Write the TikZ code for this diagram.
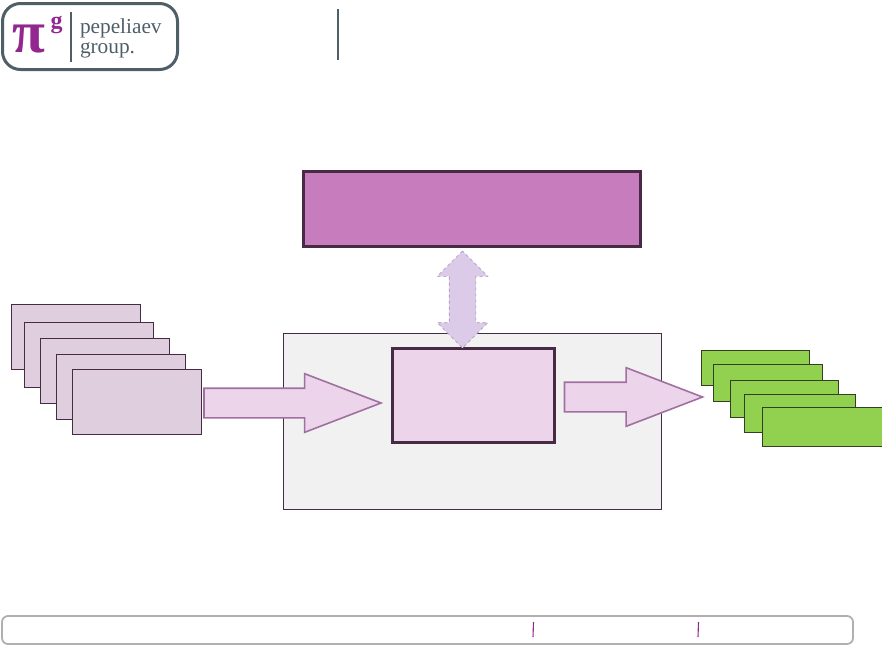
\documentclass[tikz,border=0pt]{standalone}
\usepackage{fontspec}
\setmainfont{Liberation Serif}
\usetikzlibrary{positioning,shapes.arrows}

\definecolor{edgedark}{HTML}{472B45}
\definecolor{logogrey}{HTML}{4F5F68}
\definecolor{logopurple}{HTML}{92278F}

\begin{document}
\begin{tikzpicture}[x=1pt,y=-1pt,outer sep=0pt,inner sep=0pt,
    inbox/.style={draw=edgedark,line width=0.9pt,fill={rgb,255:red,223;green,206;blue,221},
      minimum width=129.5pt,minimum height=65.5pt,anchor=north west},
    outbox/.style={draw={rgb,255:red,52;green,62;blue,35},line width=0.9pt,fill={rgb,255:red,146;green,208;blue,80},anchor=north west},
    bigarrow/.style={shape=single arrow,draw={rgb,255:red,160;green,112;blue,160},line width=1.6pt,
      fill={rgb,255:red,236;green,213;blue,235},inner ysep=14pt,minimum width=57pt,single arrow head extend=14.5pt,
      single arrow head indent=0pt,single arrow tip angle=42,anchor=west},
    logobar/.style={draw=logogrey,line width=2pt}]
  \useasboundingbox (0,0) rectangle (882,646);

  % logo
  \node[draw=logogrey,line width=3pt,rounded corners=18pt,anchor=north west,
    minimum width=175pt,minimum height=66pt] (logo) at (2.5,3.5) {};
  \node[text=logopurple,font=\fontsize{60}{60}\selectfont\bfseries,anchor=base] (pi) at (29,52) {π};
  \node[text=logopurple,font=\fontsize{24}{24}\selectfont\bfseries,anchor=base] (g) at (56.5,28) {g};
  \node[text=logogrey,font=\fontsize{21.3}{21.3}\selectfont,anchor=base west] (pep) at (80,33.5) {pepeliaev};
  \node[text=logogrey,font=\fontsize{21.3}{21.3}\selectfont,anchor=base west] (grp) at (80,53) {group.};
  \coordinate (bar1a) at (70.5,12);
  \coordinate (bar1b) at (70.5,62);
  \coordinate (bar2a) at (338,9);
  \coordinate (bar2b) at (338,60);
  \draw[logobar] (bar1a) -- (bar1b);
  \draw[logobar] (bar2a) -- (bar2b);

  % middle
  \node[draw=edgedark,line width=0.7pt,fill={rgb,255:red,241;green,241;blue,241},anchor=north west,
    minimum width=377.5pt,minimum height=176pt] (frame) at (283.5,333) {};
  \node[draw=edgedark,line width=2.2pt,fill={rgb,255:red,199;green,125;blue,189},anchor=north west,
    minimum width=337pt,minimum height=75pt] (top) at (303.5,171.5) {};
  \node[draw=edgedark,line width=2.2pt,fill={rgb,255:red,236;green,213;blue,235},anchor=north west,
    minimum width=162pt,minimum height=94pt] (core) at (392.5,348.5) {};
  \node[shape=double arrow,draw={rgb,255:red,165;green,140;blue,180},dashed,line width=0.6pt,
    fill={rgb,255:red,219;green,203;blue,232},rotate=90,inner ysep=13pt,minimum height=97pt,minimum width=50pt,
    double arrow head extend=12pt,double arrow head indent=0pt,double arrow tip angle=90] (link) at (462.5,299.5) {};

  % left stack
  \node[inbox] (in1) at (11,304) {};
  \node[inbox] (in2) [below right=18pt and 13pt of in1.north west] {};
  \node[inbox] (in3) [below right=16pt and 16pt of in2.north west] {};
  \node[inbox] (in4) [below right=16pt and 16pt of in3.north west] {};
  \node[inbox] (in5) [below right=15pt and 16pt of in4.north west] {};

  % right stack
  \node[outbox,minimum width=108pt,minimum height=35pt] (out1) at (701,350.5) {};
  \node[outbox,minimum width=109.5pt,minimum height=37pt] (out2) [below right=13.5pt and 12pt of out1.north west] {};
  \node[outbox,minimum width=108pt,minimum height=37pt] (out3) [below right=16pt and 17pt of out2.north west] {};
  \node[outbox,minimum width=111pt,minimum height=38pt] (out4) [below right=14pt and 14pt of out3.north west] {};
  \node[outbox,minimum width=120pt,minimum height=39.5pt] (out5) [below right=13pt and 18pt of out4.north west] {};

  % arrows
  \node[bigarrow,minimum height=177pt] (inarrow) at (204,403) {};
  \node[bigarrow,minimum height=138pt] (outarrow) at (564.5,397) {};

  % footer
  \node[draw={rgb,255:red,176;green,176;blue,176},line width=1.8pt,rounded corners=6pt,anchor=north west,
    minimum width=851pt,minimum height=28pt] (footer) at (2,616) {};
  \coordinate (tick1a) at (533.5,622);
  \coordinate (tick1b) at (533,637);
  \coordinate (tick2a) at (698.5,622);
  \coordinate (tick2b) at (698,637);
  \draw[logopurple,line width=1.1pt] (tick1a) -- (tick1b);
  \draw[logopurple,line width=1.1pt] (tick2a) -- (tick2b);

\end{tikzpicture}
\end{document}
